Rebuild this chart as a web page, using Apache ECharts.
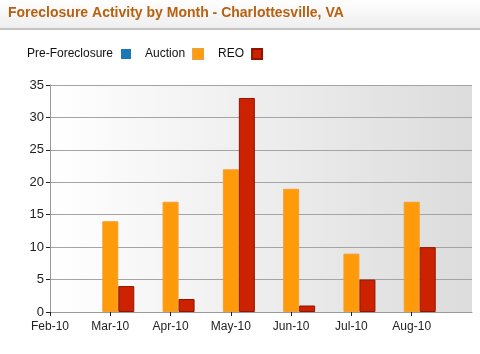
<!DOCTYPE html>
<html>
<head>
<meta charset="utf-8">
<script src="https://cdn.jsdelivr.net/npm/echarts@6/dist/echarts.min.js"></script>
<style>
	html, body { margin: 0; padding: 0; background: #fff; }
	#box { width: 480px; height: 354px; }
</style>
</head>
<body>
<div id="box"></div>
<script>
	// 数据
	var months = ['Feb-10', 'Mar-10', 'Apr-10', 'May-10', 'Jun-10', 'Jul-10', 'Aug-10', ''];
	var preForeclosure = [null, null, null, null, null, null, null, null];
	var auction = [null, 14, 17, 22, 19, 9, 17, null];
	var reo = [null, 4, 2, 33, 1, 5, 10, null];
	var yTicks = [0, 5, 10, 15, 20, 25, 30, 35];

	var myChart = echarts.init(document.getElementById('box'));

	var option = {
		animation: false,
		textStyle: { fontFamily: 'Arial, "Liberation Sans", sans-serif' },
		graphic: [
			{
				type: 'rect', left: 0, top: 0, z: -1,
				shape: { width: 480, height: 28 },
				style: {
					fill: new echarts.graphic.LinearGradient(0, 0, 0, 1, [
						{ offset: 0, color: '#ffffff' },
						{ offset: 1, color: '#eeeeee' }
					])
				}
			},
			{
				type: 'rect', left: 0, top: 28, z: -1,
				shape: { width: 480, height: 2 },
				style: { fill: '#c4c4c4' }
			},
			{
				type: 'text', left: 8, top: 6,
				style: {
					text: 'Foreclosure Activity by Month - Charlottesville, VA',
					fill: '#b8600f',
					font: 'bold 14px Arial, "Liberation Sans", sans-serif'
				}
			}
		],
		legend: {
			left: 22, top: 43,
			align: 'right',
			itemWidth: 10, itemHeight: 10,
			itemGap: 14,
			icon: 'rect',
			textStyle: { fontSize: 12, color: '#111', padding: [0, 3, 0, 0] },
			data: ['Pre-Foreclosure', 'Auction', 'REO']
		},
		grid: {
			left: 50, right: 8, top: 85, bottom: 42,
			show: true,
			borderWidth: 0,
			backgroundColor: new echarts.graphic.LinearGradient(0, 0, 1, 0, [
				{ offset: 0, color: '#ffffff' },
				{ offset: 1, color: '#dcdcdc' }
			])
		},
		xAxis: {
			type: 'category',
			data: months,
			boundaryGap: false,
			axisLine: { lineStyle: { color: '#999', width: 1 } },
			axisTick: {
				length: 4,
				lineStyle: { color: '#222' },
				interval: function (i) { return i < months.length - 1; }
			},
			axisLabel: { color: '#222', fontSize: 12, margin: 9 }
		},
		yAxis: {
			type: 'value',
			min: yTicks[0],
			max: yTicks[yTicks.length - 1],
			interval: 5,
			axisLine: { show: true, lineStyle: { color: '#999' } },
			axisTick: { show: true, length: 4, lineStyle: { color: '#222' } },
			axisLabel: { color: '#222', fontSize: 13, margin: 6 },
			splitLine: { lineStyle: { color: '#a4a4a4', width: 1 } }
		},
		series: [
			{
				name: 'Pre-Foreclosure', type: 'bar',
				data: preForeclosure, barWidth: 16, barGap: '0%',
				itemStyle: { color: '#1a78b8' }
			},
			{
				name: 'Auction', type: 'bar',
				data: auction, barWidth: 16, barGap: '0%',
				itemStyle: { color: '#ff9a0a', borderColor: '#f0a030', borderWidth: 1 }
			},
			{
				name: 'REO', type: 'bar',
				data: reo, barWidth: 16, barGap: '0%',
				itemStyle: { color: '#cc2200', borderColor: '#8f1500', borderWidth: 1 }
			}
		]
	};

	myChart.setOption(option);
</script>
</body>
</html>
